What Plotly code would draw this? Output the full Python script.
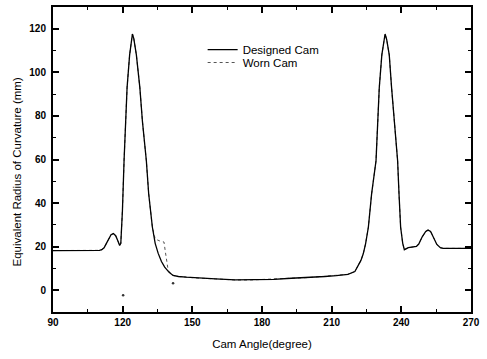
import plotly.graph_objects as go

# Designed cam: cam angle (deg) vs equivalent radius of curvature (mm)
designed_angle = [90, 95, 100, 105, 110, 111, 112, 113, 114, 115, 116, 117, 118, 118.7, 119.2, 119.9,
                  120.6, 121.2, 121.9, 123.0, 123.7, 124.2, 124.8, 125.9, 127.4, 128.5, 130.2, 131.2,
                  132.8, 134, 135.3, 136.7, 138.1, 140, 141.7, 144, 147.3, 152, 160, 168.4, 175, 185,
                  192.6, 200, 207, 212, 217, 220, 222.6, 223.6, 224.6, 225.8, 227.2, 229.1, 229.8,
                  230.5, 231.6, 232.4, 233.0, 233.7, 234.8, 235.8, 237.0, 238.4, 239.0, 239.7, 240.6,
                  241.3, 243, 245, 246.5, 247.5, 249, 250.5, 251.5, 252.6, 254, 255.3, 256.8, 258,
                  262, 266, 270]
designed_radius = [18.2, 18.2, 18.2, 18.2, 18.3, 18.6, 19.5, 21.5, 23.8, 25.5, 26.0, 25.0, 22.5, 20.5, 21.5, 36.5,
                   59.4, 77.6, 93, 108, 114, 117.6, 115.5, 108, 93, 77.6, 59.4, 44.3,
                   28.9, 21.5, 16.9, 13.2, 10.6, 8.2, 6.8, 6.3, 6.0, 5.6, 5.2, 4.7, 4.7, 5.0,
                   5.5, 5.8, 6.3, 6.7, 7.3, 8.6, 13.7, 16.7, 21.3, 28.9, 44.2, 59.4, 77.6,
                   93, 108, 114.5, 117.6, 115, 108, 93, 77.6, 59.4, 44.3, 28.9, 21.5,
                   18.6, 19.5, 19.8, 20.1, 21.2, 24.5, 27.0, 27.6, 27.0, 24, 21, 19.5, 19.2,
                   19.2, 19.2, 19.2]

# Worn cam: same profile as designed, except on the falling flank near 134-141 deg
worn_angle = [90, 95, 100, 105, 110, 111, 112, 113, 114, 115, 116, 117, 118, 118.7, 119.2, 119.9,
              120.6, 121.2, 121.9, 123.0, 123.7, 124.2, 124.8, 125.9, 127.4, 128.5, 130.2, 131.2,
              132.8, 134, 136.0, 137.8, 138.4, 139.0, 139.6, 141.0, 141.7, 144, 147.3, 152, 160, 168.4,
              175, 185, 192.6, 200, 207, 212, 217, 220, 222.6, 223.6, 224.6, 225.8, 227.2, 229.1,
              229.8, 230.5, 231.6, 232.4, 233.0, 233.7, 234.8, 235.8, 237.0, 238.4, 239.0, 239.7,
              240.6, 241.3, 243, 245, 246.5, 247.5, 249, 250.5, 251.5, 252.6, 254, 255.3, 256.8, 258,
              262, 266, 270]
worn_radius = [18.2, 18.2, 18.2, 18.2, 18.3, 18.6, 19.5, 21.5, 23.8, 25.5, 26.0, 25.0, 22.5, 20.5, 21.5, 36.5,
               59.4, 77.6, 93, 108, 114, 117.6, 115.5, 108, 93, 77.6, 59.4, 44.3,
               28.9, 23.5, 22.6, 22.1, 17.5, 13.0, 9.1, 7.3, 6.8, 6.3, 6.0, 5.6, 5.2, 4.7,
               4.7, 5.0, 5.5, 5.8, 6.3, 6.7, 7.3, 8.6, 13.7, 16.7, 21.3, 28.9, 44.2, 59.4,
               77.6, 93, 108, 114.5, 117.6, 115, 108, 93, 77.6, 59.4, 44.3, 28.9,
               21.5, 18.6, 19.5, 19.8, 20.1, 21.2, 24.5, 27.0, 27.6, 27.0, 24, 21, 19.5, 19.2,
               19.2, 19.2, 19.2]

# Isolated worn-cam readings
worn_point_angle = [120.2, 141.7]
worn_point_radius = [-2.3, 3.2]

x_ticks = [90, 120, 150, 180, 210, 240, 270]
x_minor = [105, 135, 165, 195, 225, 255]
y_ticks = [0, 20, 40, 60, 80, 100, 120]
y_minor = [-10, 10, 30, 50, 70, 90, 110, 130]

font = "Liberation Sans, Arial, sans-serif"

fig = go.Figure()
fig.add_trace(go.Scatter(x=worn_angle, y=worn_radius, mode="lines", name="Worn Cam",
                         line=dict(color="#555555", width=1, dash="dot"), legend="legend2"))
fig.add_trace(go.Scatter(x=designed_angle, y=designed_radius, mode="lines", name="Designed Cam",
                         line=dict(color="black", width=1.3), legend="legend"))
fig.add_trace(go.Scatter(x=worn_point_angle, y=worn_point_radius, mode="markers", name="Worn Cam",
                         marker=dict(color="#333333", size=2.5), showlegend=False))

axis_common = dict(showline=True, linecolor="black", linewidth=2, mirror="allticks",
                   ticks="inside", ticklen=6, tickwidth=1.5, tickcolor="black",
                   showgrid=False, zeroline=False,
                   tickfont=dict(family=font, size=10, color="black", weight="bold"))

fig.update_xaxes(range=[90, 270], tickvals=x_ticks, ticktext=[str(v) for v in x_ticks],
                 minor=dict(ticks="inside", ticklen=3, tickwidth=1.2, tickvals=x_minor, tickcolor="black"),
                 title=dict(text="Cam Angle(degree)", font=dict(family=font, size=11.5, color="black"), standoff=13),
                 **axis_common)
fig.update_yaxes(range=[-10, 130], tickvals=y_ticks, ticktext=[str(v) for v in y_ticks],
                 minor=dict(ticks="inside", ticklen=3, tickwidth=1.2, tickvals=y_minor, tickcolor="black"),
                 ticklabelstandoff=3,
                 **axis_common)

fig.add_annotation(text="Equivalent Radius of Curvature (mm)", xref="paper", yref="paper",
                   x=-0.085, y=0.459, xanchor="center", yanchor="middle", textangle=-90,
                   showarrow=False, font=dict(family=font, size=11.5, color="black"))

legend_common = dict(xanchor="left", yanchor="middle", bgcolor="rgba(0,0,0,0)",
                     font=dict(family=font, size=11.5, color="black"), itemwidth=30)

fig.update_layout(
    width=487, height=359,
    margin=dict(l=53, r=16, t=5, b=47),
    paper_bgcolor="white", plot_bgcolor="white",
    showlegend=True,
    legend=dict(x=0.358, y=0.86, **legend_common),
    legend2=dict(x=0.358, y=0.818, **legend_common),
)

fig.write_html("out.html", config={"displayModeBar": False},
               post_script="document.body.style.margin='0';")
